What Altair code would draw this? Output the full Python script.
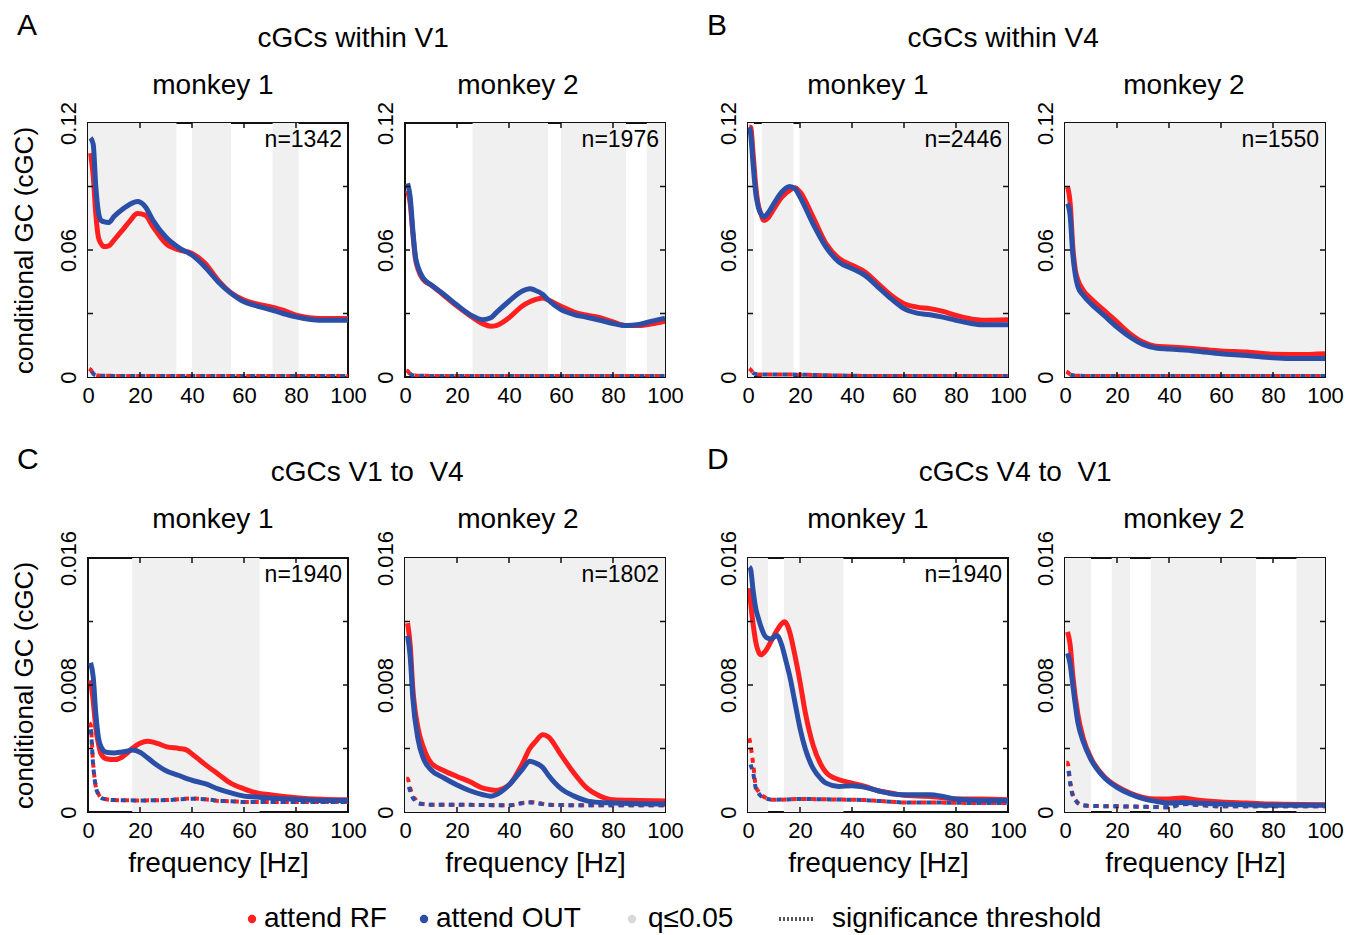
import altair as alt
import pandas as pd

FONT = "Liberation Sans"
RED = "#ff1f1f"
BLUE = "#2b4fa6"
SHADE = "#f0f0f0"
W, H = 260, 254

X_TICKS = [0, 20, 40, 60, 80, 100]
X_MINOR = [20, 40, 60, 80]

# ---------------- data ----------------
FT = [0.5, 1, 2, 3, 4, 5, 7, 10, 20, 30, 40, 45, 48, 50, 55, 60, 70, 80, 90, 100]

A1_FREQ = [1, 2, 3, 4, 5, 6, 8, 10, 13, 16, 19, 22, 25, 30, 35, 40, 45, 50, 55, 60, 65, 70, 75, 80, 85, 90, 100]
A1_OUT = [0.113, 0.110, 0.090, 0.078, 0.074, 0.0734, 0.073, 0.0758, 0.079, 0.0815, 0.0829, 0.0805, 0.074, 0.066, 0.061, 0.0576, 0.052, 0.045, 0.0395, 0.0355, 0.0335, 0.0319, 0.030, 0.0284, 0.0273, 0.0268, 0.0268]
A1_RF = [0.1058, 0.095, 0.077, 0.066, 0.063, 0.0616, 0.062, 0.0647, 0.069, 0.0735, 0.0772, 0.0765, 0.071, 0.063, 0.060, 0.0584, 0.0537, 0.0458, 0.0398, 0.0363, 0.0345, 0.0332, 0.0316, 0.0292, 0.0280, 0.0276, 0.0276]
A1_THR_RF = [0.0040, 0.0035, 0.0015, 0.0009, 0.0007, 0.0006, 0.0006, 0.0005, 0.0005, 0.0005, 0.0005, 0.0005, 0.0005, 0.0005, 0.0005, 0.0005, 0.0005, 0.0005, 0.0005, 0.0005]
A1_THR_OUT = [0.0045, 0.0040, 0.0016, 0.0009, 0.0007, 0.0006, 0.0006, 0.0005, 0.0005, 0.0005, 0.0005, 0.0005, 0.0005, 0.0005, 0.0005, 0.0005, 0.0005, 0.0005, 0.0005, 0.0005]
A1_SIG = [(0, 34), (40, 55), (71, 81)]

A2_FREQ = [1, 2, 3, 4, 5, 7, 10, 15, 20, 25, 30, 33, 35, 40, 45, 48, 50, 53, 55, 60, 65, 70, 75, 80, 85, 90, 95, 100]
A2_OUT = [0.0915, 0.085, 0.0695, 0.057, 0.052, 0.0467, 0.0436, 0.039, 0.034, 0.0295, 0.0271, 0.0280, 0.0303, 0.0358, 0.0405, 0.0417, 0.041, 0.039, 0.0365, 0.0318, 0.0295, 0.0282, 0.0268, 0.0253, 0.0243, 0.0248, 0.0264, 0.0278]
A2_RF = [0.088, 0.082, 0.068, 0.056, 0.051, 0.046, 0.0435, 0.0385, 0.0335, 0.029, 0.0251, 0.024, 0.0243, 0.028, 0.0334, 0.0355, 0.0365, 0.0373, 0.0365, 0.0334, 0.0307, 0.0292, 0.028, 0.026, 0.0243, 0.0243, 0.0251, 0.0264]
A2_THR_RF = [0.0030, 0.0028, 0.0014, 0.0009, 0.0007, 0.0006, 0.0006, 0.0005, 0.0005, 0.0005, 0.0005, 0.0005, 0.0005, 0.0005, 0.0005, 0.0005, 0.0005, 0.0005, 0.0005, 0.0005]
A2_THR_OUT = [0.0032, 0.0030, 0.0015, 0.0009, 0.0007, 0.0006, 0.0006, 0.0005, 0.0005, 0.0005, 0.0005, 0.0005, 0.0005, 0.0005, 0.0005, 0.0005, 0.0005, 0.0005, 0.0005, 0.0005]
A2_SIG = [(26, 55), (60, 85), (93, 100)]

B1_FREQ = [0.5, 1, 2, 3, 4, 5, 6, 8, 10, 13, 16, 18, 20, 25, 30, 35, 40, 45, 50, 55, 60, 65, 70, 75, 80, 85, 90, 100]
B1_OUT = [0.118, 0.115, 0.100, 0.0866, 0.080, 0.077, 0.0756, 0.078, 0.082, 0.0874, 0.090, 0.089, 0.085, 0.0724, 0.0614, 0.0543, 0.0512, 0.048, 0.0425, 0.037, 0.0323, 0.0302, 0.0294, 0.0283, 0.0268, 0.0255, 0.0247, 0.0247]
B1_RF = [0.118, 0.118, 0.105, 0.090, 0.081, 0.077, 0.074, 0.0756, 0.0795, 0.085, 0.0882, 0.0894, 0.0874, 0.0756, 0.063, 0.056, 0.0528, 0.0496, 0.0441, 0.0386, 0.0346, 0.033, 0.0323, 0.031, 0.0291, 0.0276, 0.0268, 0.027]
B1_THR_RF = [0.0040, 0.0035, 0.0020, 0.0014, 0.0012, 0.0012, 0.0012, 0.0012, 0.0011, 0.0008, 0.0006, 0.0005, 0.0005, 0.0005, 0.0005, 0.0005, 0.0005, 0.0005, 0.0005, 0.0005]
B1_THR_OUT = [0.0038, 0.0034, 0.0019, 0.0014, 0.0012, 0.0012, 0.0012, 0.0012, 0.0011, 0.0008, 0.0006, 0.0005, 0.0005, 0.0005, 0.0005, 0.0005, 0.0005, 0.0005, 0.0005, 0.0005]
B1_SIG = [(0, 2.3), (5.3, 17.5), (19.8, 100)]

B2_FREQ = [1, 2, 3, 4, 5, 7, 10, 15, 20, 25, 30, 35, 40, 50, 60, 70, 80, 90, 100]
B2_RF = [0.0898, 0.082, 0.0614, 0.0504, 0.0457, 0.041, 0.037, 0.0315, 0.026, 0.0205, 0.0165, 0.0145, 0.0142, 0.0134, 0.0123, 0.0118, 0.0107, 0.0106, 0.011]
B2_OUT = [0.082, 0.076, 0.058, 0.048, 0.0425, 0.0386, 0.0346, 0.0291, 0.0236, 0.0189, 0.0154, 0.0137, 0.0132, 0.0123, 0.011, 0.0102, 0.0091, 0.0087, 0.0087]
B2_THR_RF = [0.0025, 0.0022, 0.0012, 0.0008, 0.0006, 0.0006, 0.0005, 0.0005, 0.0005, 0.0005, 0.0005, 0.0005, 0.0005, 0.0005, 0.0005, 0.0005, 0.0005, 0.0005, 0.0005, 0.0005]
B2_THR_OUT = [0.0024, 0.0021, 0.0012, 0.0008, 0.0006, 0.0006, 0.0005, 0.0005, 0.0005, 0.0005, 0.0005, 0.0005, 0.0005, 0.0005, 0.0005, 0.0005, 0.0005, 0.0005, 0.0005, 0.0005]
B2_SIG = [(0, 100)]

C1_FREQ = [1, 2, 3, 4, 5, 7, 10, 13, 15, 17, 20, 23, 25, 27, 30, 35, 38, 40, 45, 50, 55, 60, 65, 70, 80, 90, 100]
C1_OUT = [0.0094, 0.0085, 0.0062, 0.0047, 0.0041, 0.00376, 0.00372, 0.00378, 0.00383, 0.0039, 0.00376, 0.0034, 0.00314, 0.0029, 0.0026, 0.0023, 0.0021, 0.0020, 0.00178, 0.00146, 0.0012, 0.0010, 0.00094, 0.00088, 0.0008, 0.00073, 0.00073]
C1_RF = [0.0083, 0.0070, 0.0053, 0.0043, 0.00366, 0.00335, 0.0033, 0.00345, 0.0037, 0.0040, 0.00433, 0.00446, 0.0044, 0.0043, 0.00412, 0.0040, 0.0039, 0.00366, 0.0030, 0.0024, 0.0018, 0.00146, 0.0012, 0.00109, 0.0009, 0.0008, 0.00077]
C1_THR_RF = [0.0056, 0.0055, 0.0030, 0.0016, 0.00115, 0.0009, 0.0008, 0.00075, 0.00073, 0.00075, 0.00085, 0.0008, 0.00075, 0.0007, 0.00068, 0.00063, 0.00063, 0.00063, 0.00063, 0.00063]
C1_THR_OUT = [0.0055, 0.0053, 0.0029, 0.0016, 0.0011, 0.0009, 0.0008, 0.00075, 0.00073, 0.00075, 0.00083, 0.0008, 0.00075, 0.0007, 0.00068, 0.00063, 0.00063, 0.00063, 0.00063, 0.00063]
C1_SIG = [(17, 66)]

C2_FREQ = [1, 2, 3, 5, 7, 10, 15, 20, 25, 30, 33, 35, 40, 45, 48, 50, 53, 55, 60, 65, 70, 75, 80, 90, 100]
C2_RF = [0.0119, 0.0105, 0.0078, 0.0053, 0.0041, 0.0031, 0.0026, 0.00224, 0.0019, 0.0015, 0.0014, 0.00136, 0.0017, 0.0030, 0.0040, 0.0044, 0.00486, 0.00475, 0.0036, 0.00245, 0.0015, 0.0010, 0.00077, 0.00073, 0.0007]
C2_OUT = [0.0111, 0.0098, 0.0072, 0.0046, 0.0034, 0.00266, 0.00214, 0.0017, 0.00134, 0.00109, 0.0010, 0.00109, 0.0017, 0.00266, 0.0032, 0.0031, 0.0028, 0.00235, 0.00147, 0.0010, 0.0007, 0.0006, 0.00057, 0.00052, 0.0005]
C2_THR_RF = [0.0021, 0.0021, 0.0015, 0.0010, 0.0008, 0.00057, 0.0005, 0.00046, 0.00046, 0.00044, 0.00042, 0.00057, 0.00063, 0.0006, 0.00046, 0.00044, 0.00042, 0.00042, 0.00042, 0.00042]
C2_THR_OUT = [0.0018, 0.0018, 0.0013, 0.0009, 0.0007, 0.00055, 0.0005, 0.00046, 0.00046, 0.00044, 0.00042, 0.00055, 0.0006, 0.00058, 0.00046, 0.00044, 0.00042, 0.00042, 0.00042, 0.00042]
C2_SIG = [(0, 100)]

D1_FREQ = [0.5, 1, 2, 3, 4, 5, 7, 9, 11, 13, 14, 15, 16, 18, 20, 22, 25, 28, 30, 35, 40, 45, 50, 55, 60, 70, 75, 80, 90, 100]
D1_OUT = [0.01544, 0.0153, 0.0139, 0.0128, 0.0122, 0.01166, 0.0110, 0.0109, 0.01114, 0.0105, 0.0099, 0.00926, 0.0086, 0.00695, 0.00528, 0.0040, 0.00276, 0.0021, 0.00182, 0.00161, 0.00165, 0.00155, 0.00134, 0.00115, 0.00109, 0.00109, 0.00098, 0.00082, 0.00073, 0.00073]
D1_RF = [0.0141, 0.0132, 0.0118, 0.0107, 0.0101, 0.0099, 0.0102, 0.0108, 0.0114, 0.01187, 0.01198, 0.0118, 0.01135, 0.0099, 0.0082, 0.0063, 0.00423, 0.0030, 0.0025, 0.00203, 0.00182, 0.00161, 0.00134, 0.0012, 0.00105, 0.00098, 0.0009, 0.00082, 0.00082, 0.00077]
D1_THR_RF = [0.00465, 0.0042, 0.0030, 0.0016, 0.0013, 0.0011, 0.00088, 0.00077, 0.00082, 0.0008, 0.00077, 0.00075, 0.00072, 0.0007, 0.00065, 0.0006, 0.0006, 0.00058, 0.00057, 0.00057]
D1_THR_OUT = [0.0033, 0.0030, 0.00245, 0.0015, 0.0012, 0.0010, 0.00085, 0.00077, 0.00082, 0.0008, 0.00077, 0.00075, 0.00072, 0.0007, 0.00065, 0.0006, 0.0006, 0.00058, 0.00057, 0.00057]
D1_SIG = [(0, 7.7), (13.8, 36.7)]

D2_FREQ = [1, 2, 3, 5, 7, 10, 15, 20, 25, 30, 35, 40, 45, 50, 60, 70, 80, 100]
D2_RF = [0.01135, 0.0105, 0.0086, 0.0061, 0.00465, 0.0034, 0.00224, 0.00161, 0.0012, 0.00092, 0.00082, 0.00082, 0.00088, 0.00077, 0.00063, 0.00057, 0.0005, 0.00046]
D2_OUT = [0.0100, 0.0093, 0.0080, 0.0056, 0.00444, 0.0033, 0.00218, 0.00155, 0.00113, 0.00084, 0.00067, 0.00057, 0.0006, 0.00057, 0.0005, 0.00046, 0.00042, 0.00042]
D2_THR_RF = [0.0031, 0.0031, 0.0019, 0.0011, 0.0008, 0.00057, 0.00042, 0.00038, 0.00036, 0.00033, 0.0003, 0.0005, 0.0005, 0.00046, 0.0004, 0.00036, 0.00036, 0.00036, 0.00036, 0.00036]
D2_THR_OUT = [0.0028, 0.0028, 0.0018, 0.0010, 0.00075, 0.00055, 0.00042, 0.00038, 0.00036, 0.00033, 0.0003, 0.00048, 0.0005, 0.00046, 0.0004, 0.00036, 0.00036, 0.00036, 0.00036, 0.00036]
D2_SIG = [(0, 10), (18, 25), (33, 73.5), (89, 100)]

LEGEND_LABELS = ["attend RF", "attend OUT", "q\u22640.05", "significance threshold"]
LEGEND_COLORS = [RED, BLUE, "#d9d9d9"]


def panel(freq, rf, out, thr_rf, thr_out, sig, n_label, ymax, ylabels, title, title_dx,
          title_offset, ytitle=None, xtitle=None):
    main = pd.DataFrame({"f": freq, "rf": rf, "out": out})
    thr = pd.DataFrame({"f": FT, "rf": thr_rf, "out": thr_out})
    sh = pd.DataFrame(sig, columns=["start", "end"])
    xs = alt.Scale(domain=[0, 100], nice=False, zero=False)
    ys = alt.Scale(domain=[0, ymax], nice=False, zero=True)
    xaxis = alt.Axis(values=X_TICKS, tickSize=0, domain=False, grid=False,
                     labelFontSize=22, labelPadding=8, labelFlush=False,
                     labelFont=FONT, labelColor="black",
                     title=xtitle, titleFontSize=28, titleFont=FONT,
                     titleFontWeight="normal", titleColor="black", titlePadding=8)
    lab_expr = ("datum.index == 0 ? '%s' : (datum.index < 0.9 ? '%s' : '%s')"
                % tuple(ylabels))
    yaxis = alt.Axis(values=[0, ymax / 2, ymax], labelExpr=lab_expr, tickSize=0,
                     domain=False, grid=False, labelAngle=270, labelAlign="center",
                     labelBaseline="bottom", labelPadding=8, labelFontSize=22,
                     labelFont=FONT, labelColor="black", labelFlush=False,
                     labelOverlap=False, labelLimit=0,
                     title=ytitle, titleFontSize=26, titleFont=FONT,
                     titleFontWeight="normal", titleColor="black", titlePadding=20)

    def X(field):
        return alt.X(field, scale=xs, axis=xaxis)

    def Y(field):
        return alt.Y(field, scale=ys, axis=yaxis)

    shade = alt.Chart(sh).mark_rect(color=SHADE).encode(
        x=X("start:Q"), x2="end:Q", y=alt.value(0), y2=alt.value(H))
    base = alt.Chart(main)
    red_line = base.mark_line(color=RED, strokeWidth=5, clip=True,
                              interpolate="monotone").encode(x=X("f:Q"), y=Y("rf:Q"))
    blue_line = base.mark_line(color=BLUE, strokeWidth=5, clip=True,
                               interpolate="monotone").encode(x=X("f:Q"), y=Y("out:Q"))
    tbase = alt.Chart(thr)
    red_thr = tbase.mark_line(color=RED, strokeWidth=4, strokeDash=[5, 5], clip=True,
                              interpolate="monotone").encode(x=X("f:Q"), y=Y("rf:Q"))
    blue_thr = tbase.mark_line(color=BLUE, strokeWidth=4, strokeDash=[5, 5],
                               strokeDashOffset=5, clip=True,
                               interpolate="monotone").encode(x=X("f:Q"), y=Y("out:Q"))

    xt = alt.Chart(pd.DataFrame({"t": X_MINOR}))
    yt = alt.Chart(pd.DataFrame({"t": [ymax / 4, ymax / 2, 3 * ymax / 4]}))
    tick_style = dict(color="#111", strokeWidth=1.5)
    ticks = [
        xt.mark_rule(**tick_style).encode(x=X("t:Q"), y=alt.value(0), y2=alt.value(5)),
        xt.mark_rule(**tick_style).encode(x=X("t:Q"), y=alt.value(H), y2=alt.value(H - 5)),
        yt.mark_rule(**tick_style).encode(y=Y("t:Q"), x=alt.value(0), x2=alt.value(5)),
        yt.mark_rule(**tick_style).encode(y=Y("t:Q"), x=alt.value(W), x2=alt.value(W - 5)),
    ]
    layers = [shade, red_thr, blue_thr, red_line, blue_line] + ticks
    if n_label:
        layers.append(
            alt.Chart(pd.DataFrame({"n": [n_label]})).mark_text(
                align="right", baseline="middle", fontSize=23, font=FONT,
                color="black").encode(x=alt.value(W - 6), y=alt.value(17), text="n:N"))
    return alt.layer(*layers).properties(
        width=W, height=H,
        view=alt.ViewBackground(stroke="#111", strokeWidth=2),
        title=alt.TitleParams(title, fontSize=28, font=FONT, fontWeight="normal",
                              color="black", anchor="middle", frame="group",
                              dx=title_dx, offset=title_offset))


def group(p1, p2, title, title_dx, letter, letter_dx):
    inner = alt.hconcat(p1, p2, spacing=4).properties(
        title=alt.TitleParams(title, fontSize=28, font=FONT, fontWeight="normal",
                              color="black", anchor="middle", dx=title_dx, offset=18))
    return alt.hconcat(inner).properties(
        title=alt.TitleParams(letter, fontSize=30, font=FONT, fontWeight="normal",
                              color="black", anchor="start", dx=letter_dx, offset=-16))


YT = "conditional GC (cGC)"
XT = "frequency [Hz]"
YL_TOP = ["0", "0.06", "0.12"]
YL_BOT = ["0", "0.008", "0.016"]

pA1 = panel(A1_FREQ, A1_RF, A1_OUT, A1_THR_RF, A1_THR_OUT, A1_SIG, "n=1342", 0.12, YL_TOP, "monkey 1", -5, 2, ytitle=YT)
pA2 = panel(A2_FREQ, A2_RF, A2_OUT, A2_THR_RF, A2_THR_OUT, A2_SIG, "n=1976", 0.12, YL_TOP, "monkey 2", -17, 2)
pB1 = panel(B1_FREQ, B1_RF, B1_OUT, B1_THR_RF, B1_THR_OUT, B1_SIG, "n=2446", 0.12, YL_TOP, "monkey 1", -10, 2)
pB2 = panel(B2_FREQ, B2_RF, B2_OUT, B2_THR_RF, B2_THR_OUT, B2_SIG, "n=1550", 0.12, YL_TOP, "monkey 2", -11, 2)
pC1 = panel(C1_FREQ, C1_RF, C1_OUT, C1_THR_RF, C1_THR_OUT, C1_SIG, "n=1940", 0.016, YL_BOT, "monkey 1", -5, -4, ytitle=YT, xtitle=XT)
pC2 = panel(C2_FREQ, C2_RF, C2_OUT, C2_THR_RF, C2_THR_OUT, C2_SIG, "n=1802", 0.016, YL_BOT, "monkey 2", -17, -4, xtitle=XT)
pD1 = panel(D1_FREQ, D1_RF, D1_OUT, D1_THR_RF, D1_THR_OUT, D1_SIG, "n=1940", 0.016, YL_BOT, "monkey 1", -10, -4, xtitle=XT)
pD2 = panel(D2_FREQ, D2_RF, D2_OUT, D2_THR_RF, D2_THR_OUT, D2_SIG, None, 0.016, YL_BOT, "monkey 2", -11, -4, xtitle=XT)

gA = group(pA1, pA2, "cGCs within V1", 6, "A", 7)
gB = group(pB1, pB2, "cGCs within V4", -27, "B", -9)
gC = group(pC1, pC2, "cGCs V1 to\u00a0 V4", 20, "C", 7)
gD = group(pD1, pD2, "cGCs V4 to\u00a0 V1", -15, "D", -9)

row1 = alt.hconcat(gA, gB, spacing=21)
row2 = alt.hconcat(gC, gD, spacing=21)

# legend (positions are pure layout, relative to the first panel's left edge)
LX = [164, 336, 544]
TX = [176, 348, 560, 744]
LY = 12
leg_layers = []
for i in range(3):
    leg_layers.append(alt.Chart(pd.DataFrame({"c": [LEGEND_COLORS[i]]})).mark_circle(
        size=70, opacity=1, color=LEGEND_COLORS[i]).encode(x=alt.value(LX[i]), y=alt.value(LY)))
for i in range(4):
    leg_layers.append(alt.Chart(pd.DataFrame({"t": [LEGEND_LABELS[i]]})).mark_text(
        align="left", baseline="middle", fontSize=28, font=FONT, color="black").encode(
        x=alt.value(TX[i]), y=alt.value(LY), text="t:N"))
leg_layers.append(alt.Chart(pd.DataFrame({"t": [LEGEND_LABELS[3]]})).mark_rule(
    color="#555", strokeWidth=4, strokeDash=[2, 2]).encode(
    x=alt.value(691), x2=alt.value(726), y=alt.value(LY)))
legend = alt.layer(*leg_layers).properties(
    width=1100, height=22, view=alt.ViewBackground(strokeOpacity=0))

rows = alt.vconcat(row1, row2, spacing=38)
chart = alt.vconcat(rows, legend, spacing=27).properties(
    padding={"left": 1, "top": 2, "right": 0, "bottom": 0})

chart.save("out.html", embed_options={"renderer": "svg", "actions": False})
